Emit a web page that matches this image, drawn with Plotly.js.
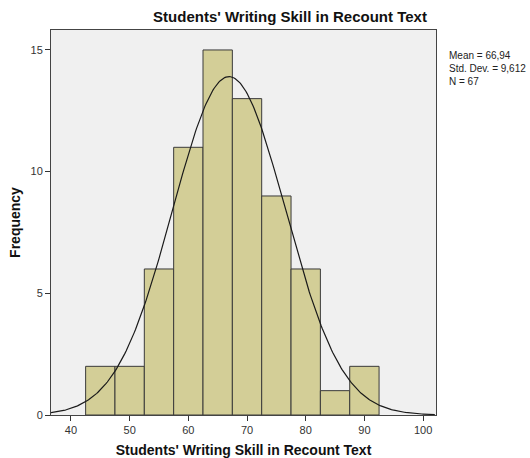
<!DOCTYPE html>
<html>
<head>
<meta charset="utf-8">
<script src="https://cdn.plot.ly/plotly-3.0.1.min.js"></script>
<style>html,body{margin:0;padding:0;background:#fff;}#chart{width:530px;height:458px;}</style>
</head>
<body>
<div id="chart"></div>
<script>
// Data
const binCenters = [45, 50, 55, 60, 65, 70, 75, 80, 85, 90];
const frequencies = [2, 2, 6, 11, 15, 13, 9, 6, 1, 2];
const binWidth = 5;
// Summary statistics shown in the chart
const meanValue = 66.94;
const stdDev = 9.612;
const nCount = 67;
const statsLabels = ["Mean = 66,94", "Std. Dev. = 9,612", "N = 67"];
const xTicks = [40, 50, 60, 70, 80, 90, 100];
const yTicks = [0, 5, 10, 15];

// Normal curve scaled to counts, defined by the stated mean / std. dev. / N
const curveX = [];
const curveY = [];
for (let x = 36.6; x <= 102.2; x += 0.2) {
  const z = (x - meanValue) / stdDev;
  curveX.push(x);
  curveY.push(nCount * binWidth / (stdDev * Math.sqrt(2 * Math.PI)) * Math.exp(-0.5 * z * z));
}

const font = "Liberation Sans, Arial, sans-serif";

const traces = [
  {
    type: "bar",
    x: binCenters,
    y: frequencies,
    width: binWidth,
    marker: {color: "#D3CE97", line: {color: "#3a3a3a", width: 1}},
    hoverinfo: "x+y"
  },
  {
    type: "scatter",
    mode: "lines",
    x: curveX,
    y: curveY,
    line: {color: "#1a1a1a", width: 1.2},
    hoverinfo: "skip"
  }
];

const layout = {
  width: 530,
  height: 458,
  margin: {l: 51, r: 94, t: 30, b: 43},
  paper_bgcolor: "#ffffff",
  plot_bgcolor: "#F0F0F0",
  showlegend: false,
  bargap: 0,
  font: {family: font, color: "#333"},
  title: {
    text: "<b>Students' Writing Skill in Recount Text</b>",
    font: {family: font, size: 15, color: "#111"},
    x: 290 / 530,
    xanchor: "center",
    y: 1 - 17 / 458,
    yanchor: "middle"
  },
  xaxis: {
    range: [36.6, 102.2],
    tickvals: xTicks,
    ticktext: xTicks.map(String),
    ticks: "outside",
    ticklen: 5,
    tickcolor: "#333",
    tickfont: {family: font, size: 11, color: "#333"},
    showgrid: false,
    zeroline: false,
    showline: true,
    linecolor: "#444",
    linewidth: 1,
    mirror: true,
    title: {
      text: "<b>Students' Writing Skill in Recount Text</b>",
      font: {family: font, size: 14, color: "#111"},
      standoff: 12
    }
  },
  yaxis: {
    range: [0, 15.82],
    tickvals: yTicks,
    ticktext: yTicks.map(String),
    ticks: "outside",
    ticklen: 5,
    tickcolor: "#333",
    tickfont: {family: font, size: 11, color: "#333"},
    showgrid: false,
    zeroline: false,
    showline: true,
    linecolor: "#444",
    linewidth: 1,
    mirror: true,
    title: {
      text: "<b>Frequency</b>",
      font: {family: font, size: 14, color: "#111"},
      standoff: 6
    }
  },
  annotations: [{
    xref: "paper", yref: "paper",
    x: (447 - 51) / 385, y: 1 - (48 - 30) / 385,
    xanchor: "left", yanchor: "top",
    align: "left",
    showarrow: false,
    text: statsLabels.join("<br>"),
    font: {family: font, size: 10, color: "#222"}
  }]
};

Plotly.newPlot("chart", traces, layout, {displayModeBar: false, staticPlot: true});
</script>
</body>
</html>
